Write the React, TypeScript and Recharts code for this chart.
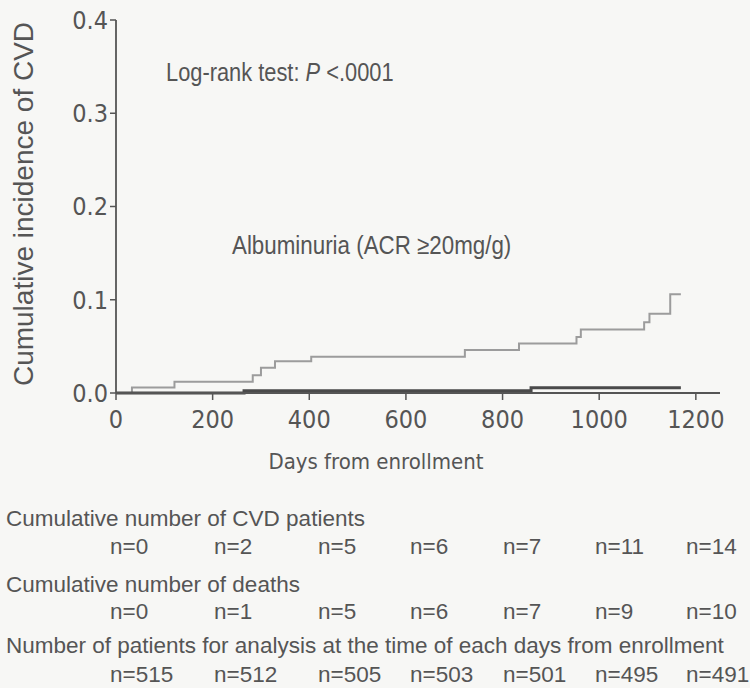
import React from "react";
import { LineChart, Line, XAxis, YAxis } from "recharts";

// 白蛋白尿组（浅灰）累积发生率的阶梯点
const albuminuriaDays = [0, 33, 121, 283, 300, 329, 404, 722, 834, 953, 962, 1093, 1104, 1147, 1169];
const albuminuriaValues = [0, 0.006, 0.012, 0.019, 0.027, 0.034, 0.039, 0.046, 0.053, 0.06, 0.068, 0.076, 0.085, 0.106, 0.106];

// 另一组（深灰，贴近零线）
const otherDays = [0, 265, 859, 1169];
const otherValues = [0, 0.0025, 0.0055, 0.0055];

const xTicks = [0, 200, 400, 600, 800, 1000, 1200];
const yTicks = [0, 0.1, 0.2, 0.3, 0.4];

const cvdCounts = ["n=0", "n=2", "n=5", "n=6", "n=7", "n=11", "n=14"];
const deathCounts = ["n=0", "n=1", "n=5", "n=6", "n=7", "n=9", "n=10"];
const atRiskCounts = ["n=515", "n=512", "n=505", "n=503", "n=501", "n=495", "n=491"];

// 表格列的左边位置（像素）
const columnX = [110, 214, 318, 410, 503, 595, 686];

const INK = "#555";
const BG = "#f7f7f5";

const albuminuriaData = albuminuriaDays.map((day, i) => ({ day, value: albuminuriaValues[i] }));
const otherData = otherDays.map((day, i) => ({ day, value: otherValues[i] }));

const tickStyle = { fill: INK, fontSize: 25, fontFamily: "'DejaVu Sans Condensed', 'DejaVu Sans', sans-serif" };
const tableFont = "'Liberation Sans', Arial, sans-serif";

const Row: React.FC<{ y: number; items: string[] }> = ({ y, items }) => (
  <>
    {items.map((t, i) => (
      <text key={i} x={columnX[i]} y={y} fontSize={22.5} fontFamily={tableFont} fill={INK}>
        {t}
      </text>
    ))}
  </>
);

const App: React.FC = () => {
  return (
    <div style={{ position: "absolute", left: 0, top: 0, width: 750, height: 688, background: BG }}>
      <div style={{ position: "absolute", left: 0, top: 0 }}>
        <LineChart width={750} height={480} margin={{ top: 20, right: 30, bottom: 27, left: 0 }}>
          <XAxis
            type="number"
            dataKey="day"
            domain={[0, 1250]}
            ticks={xTicks}
            allowDataOverflow
            height={60}
            tickSize={7}
            tickMargin={10}
            axisLine={{ stroke: INK, strokeWidth: 1.8 }}
            tickLine={{ stroke: INK, strokeWidth: 1.5 }}
            tick={tickStyle}
          />
          <YAxis
            type="number"
            domain={[0, 0.4]}
            ticks={yTicks}
            width={116}
            tickSize={6}
            tickFormatter={(v: number) => v.toFixed(1)}
            axisLine={{ stroke: INK, strokeWidth: 1.8 }}
            tickLine={{ stroke: INK, strokeWidth: 1.5 }}
            tick={tickStyle}
          />
          <Line
            data={albuminuriaData}
            dataKey="value"
            type="stepAfter"
            stroke="#9c9c9c"
            strokeWidth={2}
            dot={false}
            isAnimationActive={false}
          />
          <Line
            data={otherData}
            dataKey="value"
            type="stepAfter"
            stroke="#4a4a4a"
            strokeWidth={3}
            dot={false}
            isAnimationActive={false}
          />
        </LineChart>
      </div>
      <svg
        width={750}
        height={688}
        style={{ position: "absolute", left: 0, top: 0, pointerEvents: "none" }}
      >
        <text
          transform="translate(33,204) rotate(-90)"
          textAnchor="middle"
          fontSize={28}
          fontFamily={tableFont}
          fill={INK}
        >
          Cumulative incidence of CVD
        </text>
        <text x={376} y={469} textAnchor="middle" fontSize={22} fontFamily={tickStyle.fontFamily} fill={INK}>
          Days from enrollment
        </text>
        <text transform="translate(166,81) scale(0.84,1)" fontSize={26} fontFamily={tableFont} fill={INK}>
          Log-rank test: <tspan fontStyle="italic">P</tspan> &lt;.0001
        </text>
        <text transform="translate(232,254) scale(0.86,1)" fontSize={26} fontFamily={tableFont} fill={INK}>
          Albuminuria (ACR ≥20mg/g)
        </text>

        <text x={6} y={526} fontSize={22.5} fontFamily={tableFont} fill={INK}>
          Cumulative number of CVD patients
        </text>
        <Row y={554} items={cvdCounts} />
        <text x={6} y={592} fontSize={22.5} fontFamily={tableFont} fill={INK}>
          Cumulative number of deaths
        </text>
        <Row y={619} items={deathCounts} />
        <text x={6} y={653} fontSize={22.5} fontFamily={tableFont} fill={INK}>
          Number of patients for analysis at the time of each days from enrollment
        </text>
        <Row y={682} items={atRiskCounts} />
      </svg>
    </div>
  );
};

export default App;
